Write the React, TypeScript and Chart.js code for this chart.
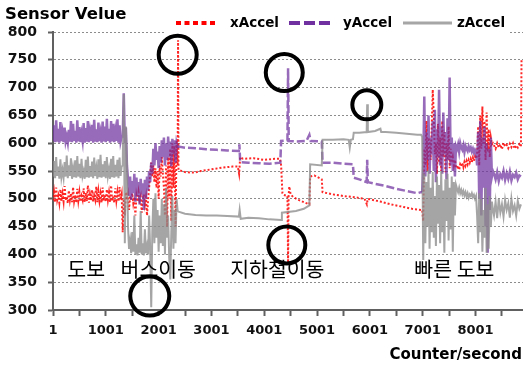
import React, { useEffect, useRef } from 'react';
import { Chart, registerables } from 'chart.js';

Chart.register(...registerables);

// ---- data ----
// walking segment: counters 1, 21, 41, ... (step 20)
const walkStart = 1;
const walkStep = 20;
const xAccelWalk = [497, 512, 494, 520, 498, 506, 493, 517, 496, 509, 495, 523, 497, 504, 492, 515, 498, 510, 494, 521, 496, 507, 493, 518, 497, 512, 495, 505, 498, 519, 494, 511, 496, 524, 493, 508, 497, 516, 495, 506, 498, 522, 494, 513, 496, 509, 493, 520, 497, 507, 495, 517, 498, 511, 494, 524, 496, 505, 493, 519, 497, 512, 495, 521, 498, 508];
const yAccelWalk = [604, 632, 602, 641, 603, 626, 601, 638, 604, 619, 602, 628, 603, 612, 601, 624, 603, 640, 602, 635, 604, 622, 601, 641, 603, 629, 602, 617, 604, 636, 601, 627, 603, 640, 602, 620, 604, 633, 601, 642, 603, 625, 602, 637, 604, 618, 601, 639, 603, 630, 602, 644, 604, 626, 601, 640, 603, 635, 602, 621, 604, 643, 601, 632, 603, 612];
const zAccelWalk = [540, 568, 537, 575, 541, 558, 536, 571, 539, 552, 538, 566, 540, 578, 537, 560, 541, 573, 536, 555, 539, 569, 538, 577, 540, 563, 537, 572, 541, 550, 536, 570, 539, 576, 538, 559, 540, 567, 537, 574, 541, 556, 536, 571, 539, 579, 538, 562, 540, 568, 537, 575, 541, 553, 536, 572, 539, 577, 538, 561, 540, 570, 537, 574, 541, 558];

// bus segment: counters 1321 ... 2361 (step 20)
const busStart = 1321;
const busStep = 20;
const xAccelBus = [440, 500, 470, 512, 498, 508, 480, 505, 497, 510, 492, 503, 470, 506, 495, 512, 498, 505, 475, 500, 508, 490, 503, 470, 498, 520, 545, 565, 540, 560, 530, 555, 520, 550, 500, 560, 540, 575, 545, 520, 470, 560, 450, 575, 500, 590, 460, 600, 520, 595, 450, 605, 560];
const yAccelBus = [612, 690, 600, 628, 560, 535, 505, 540, 498, 532, 510, 545, 495, 538, 505, 530, 490, 536, 508, 528, 480, 534, 500, 540, 515, 550, 530, 565, 545, 590, 560, 600, 570, 585, 555, 595, 565, 605, 575, 610, 560, 600, 570, 612, 575, 603, 558, 608, 580, 605, 565, 600, 592];
const zAccelBus = [560, 688, 420, 630, 560, 450, 410, 425, 402, 440, 405, 470, 400, 418, 398, 430, 403, 478, 400, 420, 398, 445, 402, 415, 400, 470, 410, 305, 440, 500, 420, 510, 430, 480, 405, 470, 420, 500, 415, 490, 400, 520, 430, 470, 395, 355, 440, 505, 410, 480, 420, 500, 478];

// subway / steady segment: [counter, value]
const xAccelRide: [number, number][] = [[2369, 785], [2377, 552], [2500, 548], [2685, 547], [2800, 550], [3000, 553], [3200, 556], [3400, 558], [3500, 558], [3525, 545], [3545, 575], [3600, 572], [3800, 573], [4000, 570], [4200, 572], [4300, 572], [4320, 560], [4345, 510], [4365, 507], [4440, 505], [4452, 385], [4462, 505], [4475, 522], [4500, 508], [4550, 503], [4650, 498], [4750, 494], [4855, 490], [4870, 540], [4950, 542], [5090, 535], [5105, 512], [5300, 508], [5500, 505], [5700, 503], [5900, 500], [5944, 490], [5960, 500], [6200, 495], [6400, 490], [6600, 486], [6800, 482], [6970, 480]];
const yAccelRide: [number, number][] = [[2377, 594], [2500, 592], [2700, 591], [2900, 589], [3100, 588], [3300, 587], [3520, 586], [3530, 598], [3545, 566], [3700, 565], [3900, 564], [4100, 563], [4305, 565], [4320, 604], [4440, 605], [4452, 735], [4464, 604], [4600, 603], [4800, 604], [4855, 615], [4880, 604], [5090, 603], [5105, 565], [5300, 565], [5500, 563], [5680, 562], [5695, 538], [5800, 535], [5940, 530], [5950, 570], [5962, 530], [6100, 527], [6300, 523], [6500, 518], [6700, 514], [6900, 510], [6970, 512]];
const zAccelRide: [number, number][] = [[2377, 477], [2500, 473], [2700, 471], [2900, 470], [3100, 470], [3300, 469], [3520, 468], [3535, 480], [3555, 464], [3700, 466], [3900, 465], [4100, 463], [4320, 462], [4335, 475], [4600, 478], [4750, 482], [4855, 488], [4870, 562], [5090, 560], [5105, 606], [5300, 606], [5500, 607], [5600, 606], [5620, 592], [5640, 606], [5680, 607], [5695, 619], [5800, 619], [5940, 620], [5950, 670], [5962, 620], [6100, 622], [6200, 626], [6215, 620], [6300, 620], [6500, 619], [6700, 617], [6900, 615], [6970, 615]];

// fast walking segment: counters 6991 ... 8331 (step 20)
const fastStart = 6991;
const fastStep = 20;
const xAccelFast = [480, 460, 590, 560, 640, 550, 610, 600, 570, 625, 696, 650, 580, 600, 545, 635, 565, 610, 550, 640, 575, 620, 548, 600, 570, 630, 555, 590, 565, 575, 560, 570, 555, 556, 560, 552, 562, 558, 565, 557, 566, 560, 568, 562, 570, 565, 572, 566, 574, 568, 576, 572, 580, 630, 560, 650, 590, 666, 600, 640, 570, 655, 585, 625, 575, 610, 598, 600];
const yAccelFast = [512, 560, 684, 540, 620, 570, 650, 545, 610, 580, 640, 550, 660, 530, 625, 575, 696, 560, 630, 545, 655, 580, 620, 535, 645, 570, 718, 560, 610, 550, 600, 540, 595, 590, 598, 585, 600, 592, 588, 596, 584, 595, 590, 586, 594, 588, 592, 585, 590, 583, 588, 584, 560, 620, 500, 640, 470, 610, 520, 630, 450, 600, 403, 590, 480, 610, 540, 550];
const zAccelFast = [612, 390, 545, 420, 530, 450, 552, 410, 520, 440, 548, 430, 505, 415, 540, 455, 525, 420, 550, 440, 515, 403, 535, 460, 545, 425, 520, 445, 540, 405, 530, 470, 525, 518, 512, 520, 510, 516, 508, 514, 506, 512, 504, 510, 502, 508, 505, 510, 503, 507, 500, 505, 470, 420, 510, 440, 500, 405, 480, 430, 520, 403, 490, 410, 505, 450, 495, 480];

// tail: counters 8351 ... 8861 (step 30)
const tailStart = 8351;
const tailStep = 30;
const xAccelTail = [596, 590, 600, 592, 598, 589, 601, 594, 597, 591, 599, 593, 600, 590, 596, 592, 598, 594];
const yAccelTail = [545, 535, 548, 532, 544, 538, 550, 534, 546, 536, 549, 533, 543, 539, 547, 535, 542, 540];
const zAccelTail = [470, 495, 465, 500, 475, 490, 468, 498, 480, 492, 466, 500, 478, 488, 470, 496, 482, 490];
const xAccelEnd: [number, number][] = [[8872, 752]];

// axes
const xTickValues = [1, 501, 1001, 1501, 2001, 2501, 3001, 3501, 4001, 4501, 5001, 5501, 6001, 6501, 7001, 7501, 8001, 8501];
const xTickLabels = ['1', '', '1001', '', '2001', '', '3001', '', '4001', '', '5001', '', '6001', '', '7001', '', '8001', ''];
const xMin = 1;
const xMax = 8900;
const yMin = 300;
const yMax = 800;
const yStep = 50;

// annotations
const circleCounters = [2362, 4380, 5943, 4428, 1833];
const circleValues = [759, 727, 669, 417, 325];
const circleRadii = [19, 18.5, 14.5, 18.5, 19.5];
const regionLabels = ['도보', '버스이동', '지하철이동', '빠른 도보'];
const regionCounters = [630, 1994, 4248, 7600];
const regionValue = 374;
const seriesNames = ['xAccel', 'yAccel', 'zAccel'];
// counter ranges where the recording is noisy (walking / bus)
const noisyRanges: [number, number][] = [[1, 2361], [6991, 8861]];

const FONT = '"DejaVu Sans", sans-serif';

function seg(start: number, step: number, vals: number[]) {
  return vals.map((v, i) => ({ x: start + i * step, y: v }));
}
function pairs(arr: [number, number][]) {
  return arr.map(([x, y]) => ({ x, y }));
}
function inNoisy(c: number) {
  return noisyRanges.some(([a, b]) => c >= a && c < b);
}

const xAccelData = [
  ...seg(walkStart, walkStep, xAccelWalk),
  ...seg(busStart, busStep, xAccelBus),
  ...pairs(xAccelRide),
  ...seg(fastStart, fastStep, xAccelFast),
  ...seg(tailStart, tailStep, xAccelTail),
  ...pairs(xAccelEnd),
];
const yAccelData = [
  ...seg(walkStart, walkStep, yAccelWalk),
  ...seg(busStart, busStep, yAccelBus),
  ...pairs(yAccelRide),
  ...seg(fastStart, fastStep, yAccelFast),
  ...seg(tailStart, tailStep, yAccelTail),
];
const zAccelData = [
  ...seg(walkStart, walkStep, zAccelWalk),
  ...seg(busStart, busStep, zAccelBus),
  ...pairs(zAccelRide),
  ...seg(fastStart, fastStep, zAccelFast),
  ...seg(tailStart, tailStep, zAccelTail),
];

const annotationPlugin = {
  id: 'sensorAnnotations',
  beforeDatasetsDraw(chart: any) {
    const ctx = chart.ctx;
    ctx.save();
    ctx.fillStyle = '#ffffff';
    ctx.fillRect(165, 10, 343, 25);
    ctx.restore();
  },
  afterDraw(chart: any) {
    const ctx: CanvasRenderingContext2D = chart.ctx;
    const xs = chart.scales.x;
    const ys = chart.scales.y;
    ctx.save();
    // circles
    ctx.strokeStyle = '#000';
    ctx.lineWidth = 4;
    circleCounters.forEach((c, i) => {
      ctx.beginPath();
      ctx.arc(xs.getPixelForValue(c), ys.getPixelForValue(circleValues[i]), circleRadii[i], 0, Math.PI * 2);
      ctx.stroke();
    });
    // region labels
    ctx.fillStyle = '#000';
    ctx.font = '20.5px "Noto Sans CJK KR"';
    ctx.textAlign = 'center';
    ctx.textBaseline = 'middle';
    regionLabels.forEach((t, i) => {
      ctx.fillText(t, xs.getPixelForValue(regionCounters[i]), ys.getPixelForValue(regionValue));
    });
    // axis titles
    ctx.font = 'bold 16.5px ' + FONT;
    ctx.textAlign = 'left';
    ctx.fillText('Sensor Velue', 5, 15);
    ctx.font = 'bold 15px ' + FONT;
    ctx.textAlign = 'right';
    ctx.fillText('Counter/second', 522, 355);
    // legend
    const ly = 23;
    ctx.lineCap = 'butt';
    ctx.strokeStyle = '#ff0000';
    ctx.lineWidth = 4;
    ctx.setLineDash([5, 3.5]);
    ctx.beginPath(); ctx.moveTo(176, ly); ctx.lineTo(215, ly); ctx.stroke();
    ctx.strokeStyle = '#7030a0';
    ctx.setLineDash([11, 4]);
    ctx.beginPath(); ctx.moveTo(289, ly); ctx.lineTo(334, ly); ctx.stroke();
    ctx.strokeStyle = '#a6a6a6';
    ctx.lineWidth = 3;
    ctx.setLineDash([]);
    ctx.beginPath(); ctx.moveTo(403, ly); ctx.lineTo(452, ly); ctx.stroke();
    ctx.font = 'bold 13.5px ' + FONT;
    ctx.textAlign = 'left';
    ctx.fillStyle = '#000';
    ctx.fillText(seriesNames[0], 230, ly);
    ctx.fillText(seriesNames[1], 343, ly);
    ctx.fillText(seriesNames[2], 457, ly);
    ctx.restore();
  },
};

export default function App() {
  const ref = useRef<HTMLCanvasElement | null>(null);
  useEffect(() => {
    if (!ref.current) return;
    const chart = new Chart(ref.current, {
      type: 'line',
      data: {
        datasets: [
          {
            label: seriesNames[0],
            data: xAccelData,
            borderColor: 'rgba(255,0,0,0.85)',
            borderWidth: 2,
            borderDash: [2, 2],
            pointRadius: 0,
            tension: 0,
            order: 3,
          },
          {
            label: seriesNames[1],
            data: yAccelData,
            borderColor: 'rgba(112,48,160,0.72)',
            borderWidth: 2.5,
            borderDash: [8, 3],
            segment: {
              borderDash: (c: any) => (inNoisy(c.p0.parsed.x) ? [] : [8, 3]),
            },
            pointRadius: 0,
            tension: 0,
            order: 2,
          },
          {
            label: seriesNames[2],
            data: zAccelData,
            borderColor: 'rgba(140,140,140,0.78)',
            borderWidth: 2,
            pointRadius: 0,
            tension: 0,
            order: 1,
          },
        ],
      },
      options: {
        animation: false,
        responsive: true,
        maintainAspectRatio: false,
        layout: { padding: { top: 32, right: 0, left: 0, bottom: 0 } },
        plugins: { legend: { display: false }, title: { display: false }, tooltip: { enabled: false } },
        events: [],
        scales: {
          x: {
            type: 'linear',
            min: xMin,
            max: xMax,
            afterBuildTicks: (scale: any) => {
              scale.ticks = xTickValues.map((v) => ({ value: v }));
            },
            afterFit: (scale: any) => {
              scale.height = 56;
            },
            grid: {
              drawOnChartArea: false,
              drawTicks: true,
              tickLength: 6,
              tickColor: '#606060',
              tickWidth: 2,
            },
            border: { display: true, color: '#606060', width: 2 },
            ticks: {
              autoSkip: false,
              maxRotation: 0,
              padding: 7,
              color: '#111',
              font: { family: FONT, weight: 'bold', size: 13 },
              callback: (_v: any, i: number) => xTickLabels[i],
            },
          },
          y: {
            type: 'linear',
            min: yMin,
            max: yMax,
            afterFit: (scale: any) => {
              scale.width = 53;
            },
            grid: {
              drawOnChartArea: true,
              color: '#8c8c8c',
              lineWidth: 1,
              drawTicks: true,
              tickLength: 5,
              tickColor: '#606060',
              tickWidth: 2,
              tickBorderDash: [],
            },
            border: { display: true, color: '#606060', width: 2, dash: [2, 2] },
            ticks: {
              stepSize: yStep,
              padding: 11,
              color: '#111',
              font: { family: FONT, weight: 'bold', size: 14 },
            },
          },
        },
      } as any,
      plugins: [annotationPlugin],
    });
    return () => chart.destroy();
  }, []);
  return (
    <div style={{ position: 'fixed', left: 0, top: 0, width: 523, height: 366, background: '#fff' }}>
      <canvas ref={ref} />
    </div>
  );
}
